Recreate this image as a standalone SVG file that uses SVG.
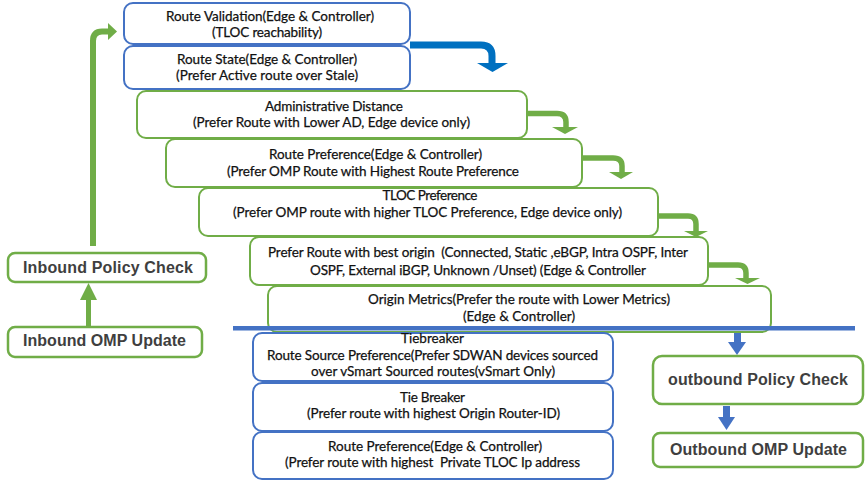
<svg xmlns="http://www.w3.org/2000/svg" width="865" height="483" viewBox="0 0 865 483">
<style>
.bb{fill:#fff;stroke:#4472C4;stroke-width:2}
.gb{fill:#fff;stroke:#70AD47;stroke-width:2}
.gs{fill:#fff;stroke:#70AD47;stroke-width:2.5}
.t{font-family:Lato,"Liberation Sans",Arial,sans-serif;font-size:13.5px;fill:#111;stroke:#111;stroke-width:0.25;text-anchor:middle;white-space:pre}
.s{font-family:"Liberation Sans",Arial,sans-serif;font-size:16px;font-weight:bold;fill:#3f3f3f;text-anchor:middle}
.ga{fill:none;stroke:#70AD47;stroke-width:6}
.gh{fill:#70AD47}
.ba{fill:#4472C4}
</style>
<rect width="865" height="483" fill="#fff"/>
<g id="connectors">
<path class="ga" d="M93,246 V41 Q93,31.5 102,31.5 H109"/>
<polygon class="gh" points="108,23 117,31.5 108,40"/>
<rect class="gh" x="86" y="299" width="5" height="28"/>
<polygon class="gh" points="80,300 88.5,283 97,300"/>
<path d="M410,45 H481 Q492,45 492,56 V64" fill="none" stroke="#0070C0" stroke-width="7"/>
<polygon fill="#0070C0" points="477,63 508,63 492.5,72"/>
<path class="ga" style="stroke-width:5.5" d="M527,113.5 H557 Q566,113.5 566,122 V128"/>
<polygon class="gh" points="552,127 578,127 565,134"/>
<path class="ga" style="stroke-width:5.5" d="M582,158 H613 Q622,158 622,166 V173"/>
<polygon class="gh" points="609,172 633,172 621,179"/>
<path class="ga" style="stroke-width:5.5" d="M658,216 H688 Q696,216 696,224 V232"/>
<polygon class="gh" points="684,231 708,231 696,237"/>
<path class="ga" style="stroke-width:5.5" d="M708,265 H738 Q746,265 746,273 V279"/>
<polygon class="gh" points="735,278 760,278 747.5,284"/>
<rect class="ba" x="734" y="333" width="7" height="10"/>
<polygon class="ba" points="728,342 746,342 737,355"/>
<rect class="ba" x="723" y="406" width="7" height="12"/>
<polygon class="ba" points="718,417 735,417 726.5,430"/>
</g>
<g id="n-validation">
<rect class="bb" x="124" y="3" width="286" height="41" rx="9"/>
<text class="t" x="270" y="21" textLength="208">Route Validation(Edge &amp; Controller)</text>
<text class="t" x="267" y="37" textLength="110">(TLOC reachability)</text>
</g>
<g id="n-state">
<rect class="bb" x="124" y="46" width="286" height="43" rx="9"/>
<text class="t" x="267" y="64" textLength="180">Route State(Edge &amp; Controller)</text>
<text class="t" x="267" y="80" textLength="182">(Prefer Active route over Stale)</text>
</g>
<g id="n-ad">
<rect class="gb" x="137" y="91" width="390" height="47" rx="9"/>
<text class="t" x="334" y="110.5" textLength="138">Administrative Distance</text>
<text class="t" x="331.5" y="127" textLength="277">(Prefer Route with Lower AD, Edge device only)</text>
</g>
<g id="n-routepref">
<rect class="gb" x="166" y="139" width="416" height="48" rx="9"/>
<text class="t" x="375.5" y="159" textLength="213">Route Preference(Edge &amp; Controller)</text>
<text class="t" x="373" y="176" textLength="292">(Prefer OMP Route with Highest Route Preference</text>
</g>
<g id="n-tloc">
<rect class="gb" x="199" y="188" width="459" height="48" rx="9"/>
<text class="t" x="430" y="200" textLength="95">TLOC Preference</text>
<text class="t" x="427.5" y="217" textLength="389">(Prefer OMP route with higher TLOC Preference, Edge device only)</text>
</g>
<g id="n-origin">
<rect class="gb" x="250" y="237" width="458" height="48" rx="9"/>
<text class="t" x="478" y="257" textLength="420">Prefer Route with best origin  (Connected, Static ,eBGP, Intra OSPF, Inter</text>
<text class="t" x="478" y="275" textLength="336">OSPF, External iBGP, Unknown /Unset) (Edge &amp; Controller</text>
</g>
<g id="n-metrics">
<rect class="gb" x="268" y="286" width="503" height="46" rx="9"/>
<text class="t" x="519" y="304" textLength="302">Origin Metrics(Prefer the route with Lower Metrics)</text>
<text class="t" x="519" y="321" textLength="112">(Edge &amp; Controller)</text>
</g>
<g id="divider">
<rect x="233" y="326" width="622" height="4.5" fill="#4472C4"/>
</g>
<g id="n-tiebreaker">
<rect class="bb" x="253" y="333" width="360" height="48" rx="9"/>
<text class="t" x="432.5" y="343" textLength="63">Tiebreaker</text>
<text class="t" x="432.5" y="360" textLength="331">Route Source Preference(Prefer SDWAN devices sourced</text>
<text class="t" x="433" y="376" textLength="244">over vSmart Sourced routes(vSmart Only)</text>
</g>
<g id="n-routerid">
<rect class="bb" x="253" y="383" width="360" height="48" rx="9"/>
<text class="t" x="432.5" y="402" textLength="65">Tie Breaker</text>
<text class="t" x="433.5" y="418" textLength="253">(Prefer route with highest Origin Router-ID)</text>
</g>
<g id="n-privtloc">
<rect class="bb" x="253" y="432" width="360" height="47" rx="9"/>
<text class="t" x="435" y="451" textLength="214">Route Preference(Edge &amp; Controller)</text>
<text class="t" x="432.5" y="467" textLength="295">(Prefer route with highest  Private TLOC Ip address</text>
</g>
<g id="n-inpolicy">
<rect class="gs" x="8" y="253" width="198" height="29" rx="7"/>
<text class="s" x="108" y="273" textLength="170">Inbound Policy Check</text>
</g>
<g id="n-inomp">
<rect class="gs" x="8" y="327" width="194" height="30" rx="7"/>
<text class="s" x="104.5" y="346" textLength="163">Inbound OMP Update</text>
</g>
<g id="n-outpolicy">
<rect class="gs" x="653" y="356" width="210" height="48" rx="9"/>
<text class="s" x="758" y="385" textLength="180">outbound Policy Check</text>
</g>
<g id="n-outomp">
<rect class="gs" x="653" y="433" width="210" height="34" rx="7"/>
<text class="s" x="758.5" y="455" textLength="177">Outbound OMP Update</text>
</g>
</svg>
